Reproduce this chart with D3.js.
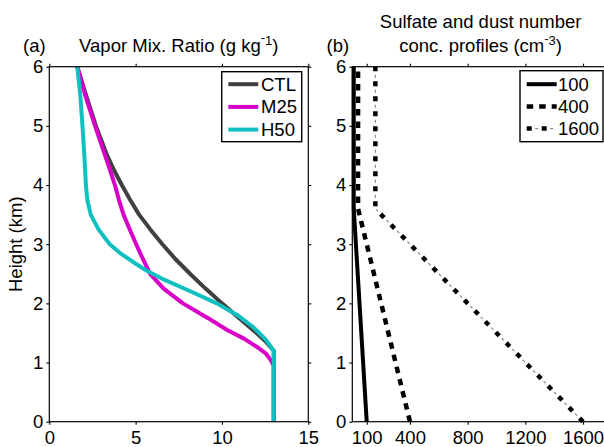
<!DOCTYPE html>
<html>
<head>
<meta charset="utf-8">
<script src="https://cdn.jsdelivr.net/npm/d3@7"></script>
<style>
  body { margin: 0; background: #fff; }
  svg text { font-family: "Liberation Sans", Arial, sans-serif; fill: #000; }
</style>
</head>
<body>
<svg id="fig" width="604" height="447"></svg>
<script>
// ---- Panel (a): water vapour mixing ratio (g/kg) against height (km) ----
const ctlHeight = [6, 5.5, 5, 4.5, 4.25, 4, 3.75, 3.5, 3.25, 3, 2.75, 2.5, 2.25, 2, 1.75, 1.5, 1.35, 1.2, 0];
const ctlVapor  = [1.62, 2.15, 2.7, 3.35, 3.75, 4.2, 4.68, 5.2, 5.85, 6.55, 7.3, 8.15, 9.05, 10.0, 11.0, 12.0, 12.55, 13.0, 13.0];

const m25Height = [6, 5.5, 5, 4.5, 4.25, 4, 3.75, 3.5, 3.25, 3, 2.75, 2.5, 2.25, 2, 1.75, 1.55, 1.4, 1.25, 1.15, 1.05, 0.95, 0];
const m25Vapor  = [1.62, 2.1, 2.65, 3.23, 3.52, 3.8, 4.03, 4.3, 4.66, 5.03, 5.42, 5.84, 6.62, 7.74, 9.2, 10.3, 11.3, 12.1, 12.55, 12.8, 13.0, 13.0];

const h50Height = [6, 5.5, 5, 4.5, 4, 3.75, 3.5, 3.25, 3, 2.85, 2.7, 2.55, 2.4, 2.2, 2, 1.8, 1.6, 1.4, 1.2, 0];
const h50Vapor  = [1.62, 1.8, 1.92, 2.03, 2.12, 2.2, 2.4, 2.85, 3.5, 4.1, 4.85, 5.65, 6.65, 8.2, 9.7, 10.9, 11.8, 12.5, 13.0, 13.0];

const vaporNames  = ["CTL", "M25", "H50"];
const vaporColors = ["#404040", "#d800c8", "#10c0c0"];
const vaporTicks  = [0, 5, 10, 15];

// ---- Panel (b): sulfate and dust number concentration (cm^-3) ----
const aerosolHeight = [0, 3.6, 6];
const aerosol100  = [100, 10, 10];
const aerosol400  = [400, 40, 40];
const aerosol1600 = [1600, 160, 160];
const aerosolNames = ["100", "400", "1600"];
const aerosolTicks = [100, 400, 800, 1200, 1600];

const heightTicks = [0, 1, 2, 3, 4, 5, 6];

// ---- layout ----
const FS = 18.5;
const svg = d3.select("#fig");
const plotTop = 66.7, plotBottom = 421.7;
const y = d3.scaleLinear().domain([0, 6]).range([plotBottom, plotTop]);
const xA = d3.scaleLinear().domain([0, 15]).range([49.3, 308.3]);
const xB = d3.scaleLinear().domain([0, 1780]).range([352.3, 609]);
const intFmt = d3.format("d");

function styleAxis(sel) {
  sel.select(".domain").remove();
  sel.selectAll("line").attr("stroke", "#000").attr("stroke-width", 1.1);
  sel.selectAll("text").attr("font-size", FS).attr("fill", "#000")
     .style("font-family", '"Liberation Sans", Arial, sans-serif');
}

function drawAxes(x, xticks, g) {
  const [x0, x1] = x.range();
  g.append("g").attr("transform", `translate(0,${plotBottom})`)
    .call(d3.axisBottom(x).tickValues(xticks).tickFormat(intFmt).tickSize(3).tickPadding(6)).call(styleAxis);
  g.append("g").attr("transform", `translate(0,${plotTop})`)
    .call(d3.axisTop(x).tickValues(xticks).tickSize(3).tickFormat("")).call(styleAxis);
  g.append("g").attr("transform", `translate(${x0},0)`)
    .call(d3.axisLeft(y).tickValues(heightTicks).tickFormat(intFmt).tickSize(3).tickPadding(3)).call(styleAxis);
  g.append("g").attr("transform", `translate(${x1},0)`)
    .call(d3.axisRight(y).tickValues(heightTicks).tickSize(3).tickFormat("")).call(styleAxis);
  g.append("rect").attr("x", x0).attr("y", plotTop).attr("width", x1 - x0).attr("height", plotBottom - plotTop)
    .attr("fill", "none").attr("stroke", "#000").attr("stroke-width", 1.2);
}

// ---- panel (a) ----
const gA = svg.append("g");
const lineA = d3.line().x(d => xA(d[0])).y(d => y(d[1]));
const vaporSeries = [
  d3.zip(ctlVapor, ctlHeight),
  d3.zip(m25Vapor, m25Height),
  d3.zip(h50Vapor, h50Height)
];
vaporSeries.forEach((s, i) => {
  gA.append("path").attr("d", lineA(s)).attr("fill", "none")
    .attr("stroke", vaporColors[i]).attr("stroke-width", 4).attr("stroke-linejoin", "round");
});
drawAxes(xA, vaporTicks, gA);

// legend (a)
const legA = gA.append("g").attr("transform", `translate(${xA.range()[1] - 6.6 - 80},${plotTop + 5})`);
legA.append("rect").attr("width", 80).attr("height", 70).attr("fill", "#fff")
  .attr("stroke", "#000").attr("stroke-width", 1.4);
vaporNames.forEach((n, i) => {
  const cy = 12.5 + i * 22.7;
  legA.append("line").attr("x1", 6.6).attr("x2", 36.6).attr("y1", cy).attr("y2", cy)
    .attr("stroke", vaporColors[i]).attr("stroke-width", 4);
  legA.append("text").attr("x", 39.3).attr("y", cy + 6.6).attr("font-size", FS).text(n);
});

// titles (a)
svg.append("text").attr("x", 23).attr("y", 52).attr("font-size", FS).text("(a)");
const tA = svg.append("text").attr("x", d3.mean(xA.range())).attr("y", 52)
  .attr("font-size", FS).attr("text-anchor", "middle");
tA.append("tspan").text("Vapor Mix. Ratio (g kg");
tA.append("tspan").attr("font-size", 13).attr("dy", -10).text("-");
tA.append("tspan").attr("font-size", 13).attr("dy", 3).text("1");
tA.append("tspan").attr("dy", 7).text(")");

svg.append("text").attr("transform", `translate(22,${(plotTop + plotBottom) / 2}) rotate(-90)`)
  .attr("text-anchor", "middle").attr("font-size", FS).text("Height (km)");

// ---- panel (b) ----
const gB = svg.append("g");
const lineB = d3.line().x(d => xB(d[0])).y(d => y(d[1]));
const p100 = d3.zip(aerosol100, aerosolHeight);
const p400 = d3.zip(aerosol400, aerosolHeight);
const p1600 = d3.zip(aerosol1600, aerosolHeight);

function styleSolid(sel) {
  sel.attr("fill", "none").attr("stroke", "#000").attr("stroke-width", 4);
}
function styleDashed(sel) {
  sel.attr("fill", "none").attr("stroke", "#000").attr("stroke-width", 4.5)
    .attr("stroke-dasharray", "6.5,6");
}
function drawDashDot(g, d) {
  g.append("path").attr("d", d).attr("fill", "none").attr("stroke", "#8a8a8a")
    .attr("stroke-width", 1.2).attr("stroke-dasharray", "3,12").attr("stroke-dashoffset", 6.5);
  g.append("path").attr("d", d).attr("fill", "none").attr("stroke", "#000")
    .attr("stroke-width", 4.5).attr("stroke-dasharray", "5,10");
}

gB.append("path").attr("d", lineB(p100)).call(styleSolid);
gB.append("path").attr("d", lineB(p400)).call(styleDashed);
drawDashDot(gB, lineB(p1600));
drawAxes(xB, aerosolTicks, gB);

// legend (b)
const legB = gB.append("g").attr("transform", `translate(${xB.range()[1] - 6 - 83},${plotTop + 4})`);
legB.append("rect").attr("width", 83).attr("height", 71).attr("fill", "#fff")
  .attr("stroke", "#000").attr("stroke-width", 1.4);
aerosolNames.forEach((n, i) => {
  const cy = 13.5 + i * 22.2;
  const segPath = d3.line()([[6.7, cy], [36.7, cy]]);
  if (i === 0) legB.append("path").attr("d", segPath).call(styleSolid);
  else if (i === 1) legB.append("path").attr("d", segPath).call(styleDashed);
  else drawDashDot(legB, segPath);
  legB.append("text").attr("x", 38).attr("y", cy + 6.6).attr("font-size", FS).text(n);
});

// titles (b)
svg.append("text").attr("x", 326.5).attr("y", 52).attr("font-size", FS).text("(b)");
const cB = (xB.range()[0] + xB.range()[1]) / 2;
svg.append("text").attr("x", cB).attr("y", 28.3).attr("font-size", FS)
  .attr("text-anchor", "middle").text("Sulfate and dust number");
const tB = svg.append("text").attr("x", cB).attr("y", 52).attr("font-size", FS)
  .attr("text-anchor", "middle");
tB.append("tspan").text("conc. profiles (cm");
tB.append("tspan").attr("font-size", 13).attr("dy", -9).text("-");
tB.append("tspan").attr("font-size", 13).attr("dy", 2).text("3");
tB.append("tspan").attr("dy", 7).text(")");
</script>
</body>
</html>
